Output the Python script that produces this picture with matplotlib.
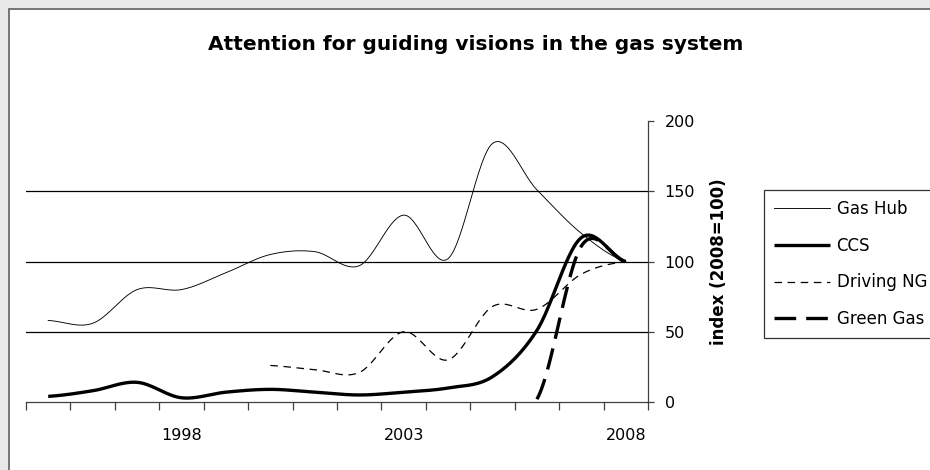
import numpy as np
import matplotlib
matplotlib.use('Agg')
import matplotlib.pyplot as plt
from matplotlib.patches import Rectangle

# values (index, 2008 = 100)
years = list(range(1995, 2009))
gas_hub = [58, 56, 80, 80, 92, 105, 107, 97, 133, 102, 184, 151, 120, 100]
ccs = [4, 8, 14, 3, 7, 9, 7, 5, 7, 10, 18, 51, 117, 100]
driving_ng_years = list(range(2000, 2009))
driving_ng = [26, 23, 21, 50, 30, 68, 66, 91, 100]
green_gas_years = [2006, 2007, 2008]
green_gas = [2, 111, 100]


def smooth(xs, ys, n=30):
    # Catmull-Rom curve through the points, like Excel's "smoothed line"
    xs = np.asarray(xs, float)
    ys = np.asarray(ys, float)
    px = np.concatenate([[2 * xs[0] - xs[1]], xs, [2 * xs[-1] - xs[-2]]])
    py = np.concatenate([[ys[0]], ys, [ys[-1]]])
    out_x, out_y = [], []
    t = np.linspace(0, 1, n)
    for i in range(1, len(px) - 2):
        p0, p1, p2, p3 = px[i - 1], px[i], px[i + 1], px[i + 2]
        q0, q1, q2, q3 = py[i - 1], py[i], py[i + 1], py[i + 2]
        cx = 0.5 * ((2 * p1) + (-p0 + p2) * t + (2 * p0 - 5 * p1 + 4 * p2 - p3) * t ** 2
                    + (-p0 + 3 * p1 - 3 * p2 + p3) * t ** 3)
        cy = 0.5 * ((2 * q1) + (-q0 + q2) * t + (2 * q0 - 5 * q1 + 4 * q2 - q3) * t ** 2
                    + (-q0 + 3 * q1 - 3 * q2 + q3) * t ** 3)
        out_x.extend(cx)
        out_y.extend(cy)
    return np.array(out_x), np.array(out_y)


fig = plt.figure(figsize=(9.3, 4.7), dpi=100)
fig.patch.set_facecolor('#e8e8e8')
# white chart area with a dark frame on the left and top
fig.patches.append(Rectangle((9 / 930, -0.05), 1.1, 1.05 - 9 / 470, transform=fig.transFigure,
                             facecolor='white', edgecolor='#606060', linewidth=1.2, zorder=-5))

ax = fig.add_axes([26 / 930, 1 - 402 / 470, (648 - 26) / 930, (402 - 121) / 470])
ax.set_facecolor('none')
ax.set_zorder(2)

for v in [50, 100, 150]:
    ax.axhline(v, color='black', linewidth=0.9, zorder=1)

x, y = smooth(years, gas_hub)
ax.plot(x, y, color='black', linewidth=0.65, label='Gas Hub', zorder=3)
x, y = smooth(years, ccs)
ax.plot(x, y, color='black', linewidth=2.4, label='CCS', zorder=4,
        solid_capstyle='butt')
x, y = smooth(driving_ng_years, driving_ng)
ax.plot(x, y, color='black', linewidth=0.9, dashes=(6, 4.5), label='Driving NG', zorder=3)
x, y = smooth(green_gas_years, green_gas)
ax.plot(x, y, color='black', linewidth=2.4, dashes=(6.5, 3), label='Green Gas', zorder=3)

ax.set_xlim(1994.5, 2008.5)
ax.set_ylim(0, 200)
ax.set_xticks([1998, 2003, 2008])
ax.set_xticks(np.arange(1994.5, 2009, 1), minor=True)
ax.tick_params(axis='x', which='major', length=0, pad=19, labelsize=11.5)
ax.tick_params(axis='x', which='minor', length=6, direction='out', width=0.9, color='#404040')

ax.yaxis.tick_right()
ax.yaxis.set_label_position('right')
ax.set_yticks([0, 50, 100, 150, 200])
ax.tick_params(axis='y', length=4, width=0.9, direction='out', pad=8, labelsize=11.5,
               color='#404040')
ax.set_ylabel('index (2008=100)', fontsize=12, fontweight='bold', labelpad=11)

for s in ['top', 'left']:
    ax.spines[s].set_visible(False)
ax.spines['bottom'].set_color('#404040')
ax.spines['right'].set_color('#404040')
ax.spines['bottom'].set_linewidth(0.9)
ax.spines['right'].set_linewidth(0.9)

fig.text(476 / 930, 1 - 45 / 470, 'Attention for guiding visions in the gas system',
         ha='center', va='center', fontsize=14.5, fontweight='bold')

leg = ax.legend(loc='upper left', bbox_to_anchor=(764 / 930, 1 - 190 / 470),
                bbox_transform=fig.transFigure, frameon=True, fancybox=False,
                edgecolor='black', fontsize=12, handlelength=3.35, handletextpad=0.4,
                labelspacing=1.12, borderpad=0.6, borderaxespad=0)
leg.get_frame().set_linewidth(0.9)

fig.savefig('out.png', dpi=100, facecolor=fig.get_facecolor())
